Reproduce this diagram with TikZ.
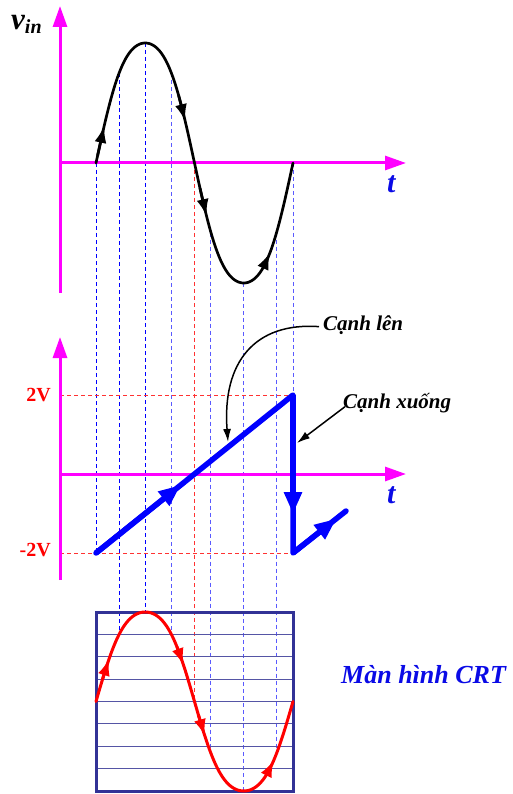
\documentclass[tikz,border=0pt]{standalone}
\usepackage{fontspec}
\setmainfont{Liberation Serif}
\usetikzlibrary{arrows.meta}
\definecolor{mag}{RGB}{255,0,255}
\definecolor{rampblue}{RGB}{0,0,255}
\definecolor{tblue}{RGB}{10,10,230}
\definecolor{dkblue}{RGB}{0,0,255}
\definecolor{ltblue}{RGB}{90,90,255}
\definecolor{gridred}{RGB}{255,50,50}
\definecolor{lblred}{RGB}{255,0,0}
\definecolor{crtnavy}{RGB}{50,50,150}
\definecolor{crtline}{RGB}{85,85,165}
\begin{document}
\begin{tikzpicture}[x=1pt,y=-1pt,
  axis/.style={mag, line width=3pt, -{Triangle[length=21pt,width=14pt]}},
  guide/.style={dash pattern=on 4pt off 3pt, line width=1pt},
  lbl/.style={inner sep=0pt, font=\bfseries\itshape\fontsize{21}{21}\selectfont},
  tlbl/.style={inner sep=0pt, text=tblue, font=\bfseries\itshape\fontsize{30}{30}\selectfont},
  vlbl/.style={inner sep=0pt, text=lblred, font=\bfseries\fontsize{20}{20}\selectfont},
  callout/.style={black, line width=1.5pt, -{Latex[length=13pt,width=8pt]}},
  ramp/.style={rampblue, line width=5.5pt, line cap=round, line join=round},
  ramptip/.style={rampblue, line width=5.5pt, -{Triangle[length=22pt,width=17pt]}},
  curvetip/.style={-{Latex[length=17pt,width=12pt]}},
]
\useasboundingbox (0,0) rectangle (512,794);

% guide lines (dashed)
\draw[guide,dkblue] (96.5,163) -- (96.5,553);
\draw[guide,dkblue] (119.5,73.4) -- (119.5,634.6);
\draw[guide,dkblue] (145.5,43) -- (145.5,612);
\draw[guide,ltblue] (171.5,73.4) -- (171.5,634.6);
\draw[guide,ltblue] (210.5,232.5) -- (210.5,753.3);
\draw[guide,ltblue] (243.5,283) -- (243.5,791);
\draw[guide,ltblue] (276.5,232.5) -- (276.5,753.3);
\draw[guide,ltblue] (293,163) -- (293,395);
\draw[guide,gridred] (194.5,163) -- (194.5,701.5);
\draw[guide,gridred] (60,395.5) -- (293,395.5);
\draw[guide,gridred] (60,553.5) -- (293,553.5);

% axes
\coordinate (o1) at (60,163);
\coordinate (o2) at (60,474);
\draw[axis] (60,293) -- (60,6);
\draw[axis] (o1) -- (406,163);
\draw[axis] (60,580) -- (60,337);
\draw[axis] (o2) -- (406,474);

% labels of axes
\node[anchor=base west, inner sep=0pt, font=\bfseries\itshape] (vin) at (11,30)
  {\fontsize{31}{31}\selectfont v\raisebox{-4pt}{\fontsize{20}{20}\selectfont in}};
\node[tlbl, anchor=base west] (t1) at (387,193) {t};
\node[tlbl, anchor=base west] (t2) at (387,503) {t};
\node[vlbl, anchor=base east] (v2p) at (51,401) {2V};
\node[vlbl, anchor=base east] (v2m) at (51,556) {-2V};

% input sine
\draw[black, line width=2.7pt, line cap=round]
  plot[domain=0:360, samples=145, variable=\t]
  ({96+\t/360*197},{163-120*(sin(\t)+0.05*sin(3*\t))/0.95});
\foreach \t in {15,163,202,318}{
  \draw[black, line width=2.7pt, curvetip]
    ({96+(\t-12)/360*197},{163-120*(sin(\t-12)+0.05*sin(3*(\t-12)))/0.95})
    -- ({96+\t/360*197},{163-120*(sin(\t)+0.05*sin(3*\t))/0.95});
}

% sawtooth
\coordinate (rA) at (96,553);
\coordinate (rB) at (293,395);
\coordinate (rC) at (293,553);
\coordinate (rD) at (346,511);
\coordinate (tipA) at (180.7,485);
\coordinate (tipB) at (293,514);
\coordinate (tipC) at (336.5,518.6);
\draw[ramp] (rA) -- (rB) -- (rC) -- (rD);
\draw[ramptip] (rA) -- (tipA);
\draw[ramptip] (rB) -- (tipB);
\draw[ramptip] (rC) -- (tipC);

% callouts
\node[lbl, anchor=base west] (lup) at (323,330) {Cạnh lên};
\node[lbl, anchor=base west] (ldown) at (343,408) {Cạnh xuống};
\coordinate (upTip) at (228,442);
\coordinate (downTip) at (297,443);
\draw[callout] ([xshift=-4pt,yshift=-2pt]lup.west) .. controls (255,322) and (222,362) .. (upTip);
\draw[callout] ([xshift=2pt,yshift=6pt]ldown.south west) -- (downTip);

% CRT screen
\foreach \i in {1,...,7}{
  \draw[crtline, line width=1pt] (96,{612+\i*22.375}) -- (293,{612+\i*22.375});
}
\draw[crtnavy, line width=3pt] (96,612) rectangle (293,791);
\draw[red, line width=3pt, line cap=round]
  plot[domain=0:360, samples=145, variable=\t]
  ({96+\t/360*197},{701.5-89.5*(sin(\t)+0.05*sin(3*\t))/0.95});
\foreach \t in {24,160,199,325}{
  \draw[red, line width=3pt, curvetip]
    ({96+(\t-12)/360*197},{701.5-89.5*(sin(\t-12)+0.05*sin(3*(\t-12)))/0.95})
    -- ({96+\t/360*197},{701.5-89.5*(sin(\t)+0.05*sin(3*\t))/0.95});
}
\node[inner sep=0pt, anchor=base west, text=tblue,
  font=\bfseries\itshape\fontsize{26}{26}\selectfont] (crt) at (341,683) {Màn hình CRT};
\end{tikzpicture}
\end{document}
